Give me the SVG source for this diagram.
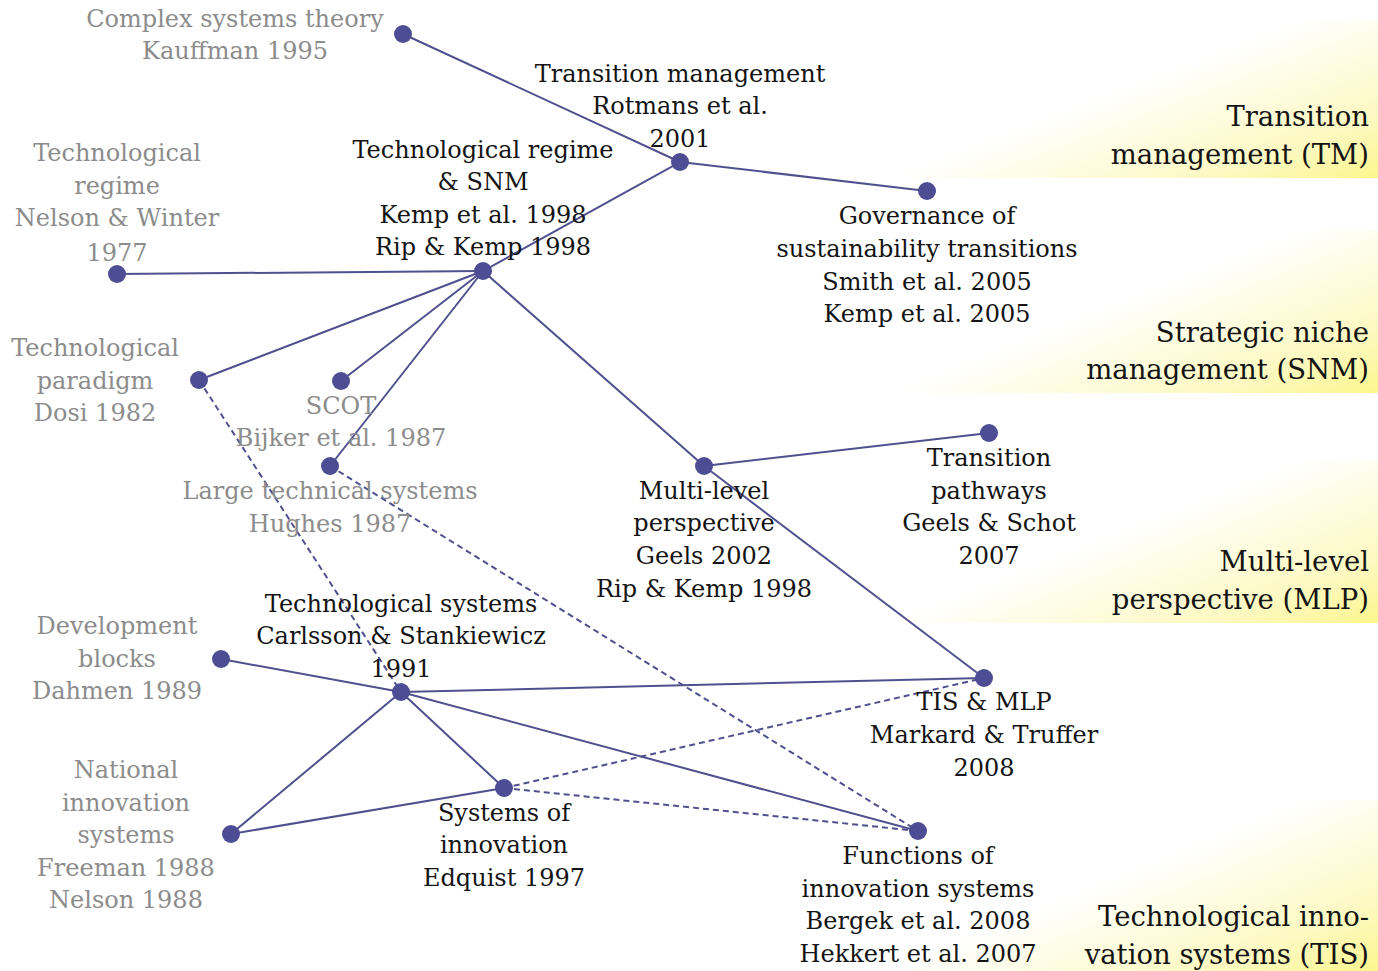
<svg xmlns="http://www.w3.org/2000/svg" width="1378" height="971" viewBox="0 0 1378 971">
<defs>
<linearGradient id="band" x1="0" y1="0.2" x2="1" y2="1">
<stop offset="0.42" stop-color="#fbf59a" stop-opacity="0"/>
<stop offset="0.8" stop-color="#fbf59a" stop-opacity="0.6"/>
<stop offset="1" stop-color="#fcf68c" stop-opacity="1"/>
</linearGradient>
<style>
text{font-family:"DejaVu Serif","Liberation Serif",serif;font-size:24px;text-anchor:middle}
.b{fill:#141414}
.g{fill:#8c8c8c}
.h{font-size:27.5px;text-anchor:end;fill:#141414}
.s{stroke:#50508f;stroke-width:2;fill:none}
.d{stroke:#50508f;stroke-width:2;fill:none;stroke-dasharray:6 4}
circle{fill:#4d4d94}
</style>
</defs>
<rect width="1378" height="971" fill="#ffffff"/>
<g id="bands">
<rect x="860" y="20" width="518" height="158" fill="url(#band)"/>
<rect x="860" y="230" width="518" height="163" fill="url(#band)"/>
<rect x="860" y="460" width="518" height="163" fill="url(#band)"/>
<rect x="860" y="800" width="518" height="171" fill="url(#band)"/>
</g>
<g id="band-labels">
<text class="h" x="1369" y="126">Transition</text>
<text class="h" x="1369" y="164">management (TM)</text>
<text class="h" x="1369" y="342">Strategic niche</text>
<text class="h" x="1369" y="379">management (SNM)</text>
<text class="h" x="1369" y="571">Multi-level</text>
<text class="h" x="1369" y="609">perspective (MLP)</text>
<text class="h" x="1369" y="926">Technological inno-</text>
<text class="h" x="1369" y="964">vation systems (TIS)</text>
</g>
<g id="connectors">
<line class="s" x1="403" y1="34" x2="680" y2="162"/>
<line class="s" x1="680" y1="162" x2="927" y2="191"/>
<line class="s" x1="680" y1="162" x2="483" y2="271"/>
<line class="s" x1="483" y1="271" x2="117" y2="274"/>
<line class="s" x1="483" y1="271" x2="199" y2="380"/>
<line class="s" x1="483" y1="271" x2="341" y2="381"/>
<line class="s" x1="483" y1="271" x2="330" y2="466"/>
<line class="s" x1="483" y1="271" x2="704" y2="466"/>
<line class="s" x1="704" y1="466" x2="989" y2="433"/>
<line class="s" x1="704" y1="466" x2="984" y2="678"/>
<line class="s" x1="221" y1="659" x2="401" y2="692"/>
<line class="s" x1="401" y1="692" x2="984" y2="678"/>
<line class="s" x1="401" y1="692" x2="918" y2="831"/>
<line class="s" x1="401" y1="692" x2="504" y2="788"/>
<line class="s" x1="401" y1="692" x2="231" y2="834"/>
<line class="s" x1="231" y1="834" x2="504" y2="788"/>
<line class="d" x1="199" y1="380" x2="401" y2="692"/>
<line class="d" x1="330" y1="466" x2="918" y2="831"/>
<line class="d" x1="504" y1="788" x2="984" y2="678"/>
<line class="d" x1="504" y1="788" x2="918" y2="831"/>
</g>
<g id="n-complex"><circle cx="403" cy="34" r="9"/>
<text class="g" x="235" y="27">Complex systems theory</text><text class="g" x="235" y="59">Kauffman 1995</text></g>
<g id="n-tm"><circle cx="680" cy="162" r="9"/>
<text class="b" x="680" y="82">Transition management</text><text class="b" x="680" y="114">Rotmans et al.</text><text class="b" x="680" y="147">2001</text></g>
<g id="n-gov"><circle cx="927" cy="191" r="9"/>
<text class="b" x="927" y="224">Governance of</text><text class="b" x="927" y="257">sustainability transitions</text><text class="b" x="927" y="290">Smith et al. 2005</text><text class="b" x="927" y="322">Kemp et al. 2005</text></g>
<g id="n-regime"><circle cx="117" cy="274" r="9"/>
<text class="g" x="117" y="161">Technological</text><text class="g" x="117" y="194">regime</text><text class="g" x="117" y="226">Nelson &amp; Winter</text><text class="g" x="117" y="261">1977</text></g>
<g id="n-snm"><circle cx="483" cy="271" r="9"/>
<text class="b" x="483" y="158">Technological regime</text><text class="b" x="483" y="190">&amp; SNM</text><text class="b" x="483" y="223">Kemp et al. 1998</text><text class="b" x="483" y="255">Rip &amp; Kemp 1998</text></g>
<g id="n-paradigm"><circle cx="199" cy="380" r="9"/>
<text class="g" x="95" y="356">Technological</text><text class="g" x="95" y="389">paradigm</text><text class="g" x="95" y="421">Dosi 1982</text></g>
<g id="n-scot"><circle cx="341" cy="381" r="9"/>
<text class="g" x="341" y="414">SCOT</text><text class="g" x="341" y="446">Bijker et al. 1987</text></g>
<g id="n-lts"><circle cx="330" cy="466" r="9"/>
<text class="g" x="330" y="499">Large technical systems</text><text class="g" x="330" y="532">Hughes 1987</text></g>
<g id="n-mlp"><circle cx="704" cy="466" r="9"/>
<text class="b" x="704" y="499">Multi-level</text><text class="b" x="704" y="531">perspective</text><text class="b" x="704" y="564">Geels 2002</text><text class="b" x="704" y="597">Rip &amp; Kemp 1998</text></g>
<g id="n-pathways"><circle cx="989" cy="433" r="9"/>
<text class="b" x="989" y="466">Transition</text><text class="b" x="989" y="499">pathways</text><text class="b" x="989" y="531">Geels &amp; Schot</text><text class="b" x="989" y="564">2007</text></g>
<g id="n-techsys"><circle cx="401" cy="692" r="9"/>
<text class="b" x="401" y="612">Technological systems</text><text class="b" x="401" y="644">Carlsson &amp; Stankiewicz</text><text class="b" x="401" y="677">1991</text></g>
<g id="n-devblocks"><circle cx="221" cy="659" r="9"/>
<text class="g" x="117" y="634">Development</text><text class="g" x="117" y="667">blocks</text><text class="g" x="117" y="699">Dahmen 1989</text></g>
<g id="n-tismlp"><circle cx="984" cy="678" r="9"/>
<text class="b" x="984" y="710">TIS &amp; MLP</text><text class="b" x="984" y="743">Markard &amp; Truffer</text><text class="b" x="984" y="776">2008</text></g>
<g id="n-nis"><circle cx="231" cy="834" r="9"/>
<text class="g" x="126" y="778">National</text><text class="g" x="126" y="811">innovation</text><text class="g" x="126" y="843">systems</text><text class="g" x="126" y="876">Freeman 1988</text><text class="g" x="126" y="908">Nelson 1988</text></g>
<g id="n-soi"><circle cx="504" cy="788" r="9"/>
<text class="b" x="504" y="821">Systems of</text><text class="b" x="504" y="853">innovation</text><text class="b" x="504" y="886">Edquist 1997</text></g>
<g id="n-functions"><circle cx="918" cy="831" r="9"/>
<text class="b" x="918" y="864">Functions of</text><text class="b" x="918" y="897">innovation systems</text><text class="b" x="918" y="929">Bergek et al. 2008</text><text class="b" x="918" y="962">Hekkert et al. 2007</text></g>
</svg>
